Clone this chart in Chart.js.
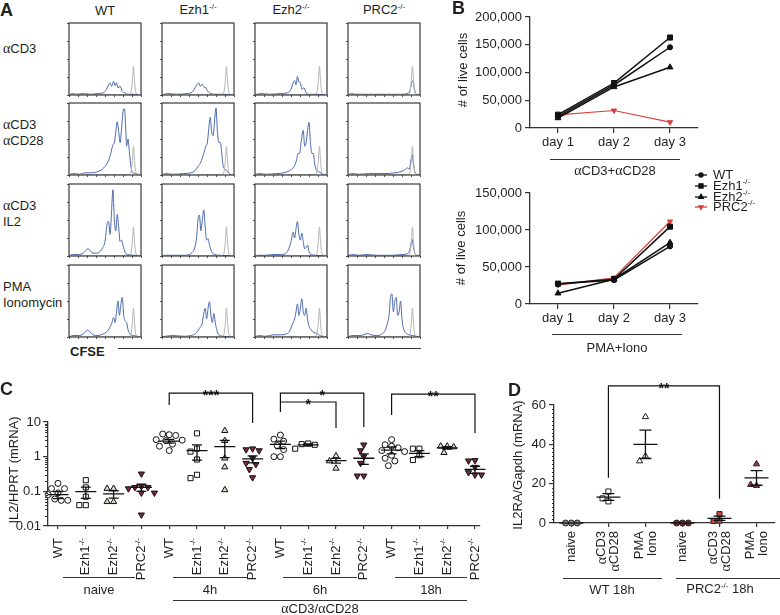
<!DOCTYPE html>
<html>
<head>
<meta charset="utf-8">
<title>PRC2 T cell figure</title>
<script src="https://cdn.jsdelivr.net/npm/chart.js@4.4.1/dist/chart.umd.min.js"></script>
<style>
  body { margin: 0; background: #fff; }
  #fig { position: relative; width: 780px; height: 615px; overflow: hidden;
         font-family: "Liberation Sans", Arial, Helvetica, sans-serif; color: #231f20; }
  #fig canvas { position: absolute; }
  .t { position: absolute; font-size: 13px; line-height: 15px; white-space: nowrap; }
  .c { transform: translate(-50%, -50%); }
  .l { transform: translate(0, -50%); }
  .r { transform: translate(-50%, -50%) rotate(-90deg); }
  .big { font-size: 18px; font-weight: bold; line-height: 20px; }
  .s { font-size: 8px; position: relative; top: -5px; }
  .g { font-family: "Liberation Serif", "Times New Roman", serif; font-size: 14px; }
  .ln { position: absolute; height: 1px; background: #333; }
</style>
</head>
<body>
<div id="fig"></div>
<script>
// ---------------- data ----------------
var genotypes = ['WT', 'Ezh1', 'Ezh2', 'PRC2'];

// A - CFSE histograms, [CFSE channel 0-100, fraction of max]
var stimuli = [['αCD3'], ['αCD3', 'αCD28'], ['αCD3', 'IL2'], ['PMA', 'Ionomycin']];
var cfseGray = [[0,0],[80,0.005],[84,0.01],[86,0.04],[88,0.2],[89.5,0.4],[91,0.2],[92.5,0.05],[95,0.01],[100,0]];
var cfseCD3 = [
  [[0,0],[5,0.02],[10,0.01],[20,0.02],[30,0.01],[40,0.02],[48,0.03],[52,0.08],[55,0.14],[57,0.17],[59,0.12],[62,0.19],[64,0.13],[66,0.17],[68,0.1],[71,0.12],[74,0.05],[78,0.03],[82,0.01],[88,0.01],[100,0]],
  [[0,0],[8,0.02],[20,0.01],[35,0.02],[42,0.04],[46,0.1],[49,0.15],[51,0.17],[53,0.12],[56,0.15],[58,0.11],[61,0.1],[63,0.06],[66,0.03],[72,0.01],[85,0.01],[100,0]],
  [[0,0],[8,0.02],[20,0.01],[35,0.02],[45,0.03],[50,0.08],[53,0.17],[55,0.2],[57,0.14],[59,0.26],[61,0.18],[63,0.17],[65,0.08],[68,0.1],[71,0.03],[76,0.01],[85,0.01],[100,0]],
  [[0,0],[5,0.02],[10,0.01],[30,0.01],[60,0.01],[75,0.01],[82,0.02],[86,0.06],[88,0.15],[90,0.2],[92,0.1],[94,0.02],[100,0]]
];
var cfseCD3CD28 = [
  [[0,0],[5,0.02],[15,0.01],[22,0.03],[30,0.03],[38,0.04],[45,0.07],[50,0.12],[55,0.2],[58,0.3],[61,0.42],[63,0.45],[65,0.6],[67,0.74],[69,0.6],[71,0.45],[73,0.65],[75,0.88],[77,0.92],[79,0.6],[80,0.4],[82,0.5],[84,0.3],[86,0.12],[88,0.04],[92,0.02],[100,0]],
  [[0,0],[5,0.02],[15,0.01],[30,0.02],[40,0.03],[46,0.06],[50,0.12],[54,0.18],[58,0.3],[61,0.4],[63,0.45],[65,0.65],[67,0.8],[69,0.6],[71,0.55],[73,0.75],[75,0.93],[77,0.6],[79,0.45],[81,0.45],[83,0.3],[85,0.12],[88,0.08],[91,0.04],[95,0.01],[100,0]],
  [[0,0],[5,0.02],[15,0.01],[30,0.02],[40,0.03],[48,0.06],[53,0.1],[57,0.18],[60,0.3],[62,0.3],[64,0.45],[67,0.62],[69,0.4],[71,0.45],[73,0.62],[75,0.73],[77,0.45],[79,0.3],[81,0.3],[83,0.15],[86,0.06],[90,0.04],[94,0.01],[100,0]],
  [[0,0],[5,0.02],[15,0.01],[30,0.02],[50,0.02],[65,0.03],[75,0.05],[80,0.08],[83,0.1],[85,0.08],[87,0.18],[89,0.28],[91,0.15],[93,0.04],[96,0.01],[100,0]]
];
var cfseCD3IL2 = [
  [[0,0],[5,0.02],[12,0.02],[18,0.03],[22,0.06],[26,0.1],[29,0.08],[33,0.04],[38,0.04],[43,0.06],[47,0.12],[50,0.2],[53,0.45],[55,0.48],[57,0.3],[59,0.6],[61,0.92],[63,0.5],[65,0.35],[67,0.58],[69,0.4],[71,0.2],[73,0.22],[75,0.15],[78,0.05],[82,0.02],[90,0.01],[100,0]],
  [[0,0],[5,0.01],[15,0.01],[30,0.01],[38,0.02],[42,0.05],[45,0.1],[48,0.25],[50,0.5],[52,0.57],[54,0.35],[56,0.5],[58,0.64],[60,0.4],[62,0.22],[64,0.24],[66,0.15],[69,0.06],[73,0.02],[80,0.01],[100,0]],
  [[0,0],[5,0.01],[15,0.01],[25,0.02],[35,0.02],[42,0.03],[46,0.08],[50,0.2],[53,0.33],[55,0.25],[57,0.38],[59,0.48],[61,0.3],[63,0.22],[65,0.32],[67,0.2],[69,0.1],[71,0.12],[73,0.15],[75,0.06],[78,0.02],[85,0.01],[100,0]],
  [[0,0],[5,0.02],[15,0.01],[25,0.02],[40,0.01],[60,0.01],[75,0.02],[82,0.03],[85,0.06],[87,0.14],[89,0.23],[91,0.12],[93,0.03],[96,0.01],[100,0]]
];
var cfsePMA = [
  [[0,0],[5,0.02],[12,0.02],[18,0.03],[22,0.06],[26,0.1],[29,0.07],[33,0.03],[40,0.02],[47,0.04],[52,0.07],[56,0.12],[59,0.18],[62,0.27],[64,0.2],[66,0.35],[68,0.5],[70,0.3],[72,0.45],[74,0.55],[76,0.3],[78,0.22],[80,0.2],[82,0.1],[85,0.04],[90,0.02],[100,0]],
  [[0,0],[5,0.01],[15,0.02],[30,0.01],[40,0.02],[47,0.05],[52,0.12],[56,0.2],[58,0.33],[60,0.4],[62,0.25],[64,0.4],[66,0.49],[68,0.3],[70,0.2],[72,0.33],[74,0.2],[76,0.1],[79,0.03],[85,0.01],[100,0]],
  [[0,0],[5,0.02],[15,0.01],[25,0.03],[35,0.03],[43,0.04],[48,0.08],[52,0.18],[55,0.25],[57,0.35],[59,0.46],[61,0.3],[63,0.4],[65,0.53],[67,0.35],[69,0.3],[71,0.4],[73,0.25],[75,0.15],[78,0.1],[82,0.06],[86,0.05],[90,0.02],[100,0]],
  [[0,0],[5,0.02],[15,0.02],[22,0.03],[27,0.05],[32,0.03],[40,0.02],[47,0.04],[52,0.1],[55,0.2],[57,0.3],[59,0.55],[61,0.6],[63,0.35],[65,0.5],[67,0.55],[69,0.3],[71,0.35],[73,0.5],[75,0.25],[77,0.12],[80,0.06],[85,0.03],[90,0.02],[100,0]]
];

// B - number of live cells (WT, Ezh1, Ezh2, PRC2)
var days = ['day 1', 'day 2', 'day 3'];
var liveCD28 = [[21000, 77500, 145500], [24000, 81000, 163000], [18000, 74000, 109500], [23500, 31500, 10500]];
var livePMA = [[27000, 32500, 78000], [27500, 33500, 104500], [14500, 33500, 83000], [25500, 35500, 111500]];

// C - IL2/HPRT, per genotype: [naive, 4h, 6h, 18h]
var il2Times = ['naive', '4h', '6h', '18h'];
var il2Ticks = [0.01, 0.1, 1, 10];
var il2WT = [[0.17, 0.12, 0.12, 0.09, 0.08, 0.06, 0.055, 0.055], [4.3, 4.5, 4.1, 3.1, 3.0, 2.9, 2.3, 2.0, 1.5],
             [4.2, 3.2, 2.8, 2.1, 1.6, 1.0, 1.0], [3.1, 2.2, 2.0, 1.8, 1.5, 1.4, 1.1, 0.9, 0.75, 0.55]];
var il2Ezh1 = [[0.21, 0.13, 0.07, 0.04, 0.04], [4.7, 1.7, 1.4, 0.83, 0.3, 0.24], [2.4, 2.3, 2.2, 1.7], [1.7, 1.7, 1.1, 0.8]];
var il2Ezh2 = [[0.12, 0.12, 0.05, 0.05], [5.6, 2.9, 0.9, 0.5, 0.11], [1.05, 0.75, 0.46], [2.0, 2.0, 1.9, 1.3]];
var il2PRC2 = [[0.32, 0.14, 0.13, 0.13, 0.12, 0.09, 0.09, 0.021], [1.7, 1.6, 1.5, 0.9, 0.65, 0.6, 0.43, 0.25],
               [2.2, 1.5, 1.0, 0.65, 0.28, 0.28], [0.78, 0.76, 0.5, 0.35, 0.3, 0.3]];
var il2Mean = [[0.08, 2.8, 2.26, 1.55], [0.098, 1.49, 2.2, 1.25], [0.084, 1.94, 0.77, 1.8], [0.13, 0.86, 0.9, 0.43]];
var il2Sem = [[0.018, 0.35, 0.55, 0.35], [0.035, 0.7, 0.15, 0.25], [0.02, 1.0, 0.12, 0.15], [0.03, 0.2, 0.3, 0.1]];
// [from, to, top, left end, right end, stars]
var il2Stats = [[4, 7, 68, 31, 9.4, '***'], [8, 11, 68, 19.4, 7.2, '*'], [8, 10, 37.7, 37.7, 6.7, '*'], [12, 15, 64, 15.9, 4.8, '**']];

// D - IL2RA/Gapdh, [naive, aCD3 aCD28, PMA Iono]
var il2raStim = [['naive'], ['αCD3', 'αCD28'], ['PMA', 'Iono']];
var il2raGroups = ['WT 18h', 'PRC2-/- 18h'];
var il2raTicks = [0, 20, 40, 60];
var il2raWT = [[0, 0, 0], [16, 11, 12.5], [54, 34, 31.5]];
var il2raPRC2 = [[0, 0, 0], [4.5, 1.2, 1.0], [30, 19, 19.5]];
var il2raMean = [[0, 13.2, 40], [0, 2.4, 22.9]];
var il2raSem = [[0, 1.7, 7.2], [0, 1.1, 3.7]];
var il2raStats = [[1, 4, 69.7, 23, 12.3, '**']];

// ---------------- helpers ----------------
Chart.defaults.font.family = '"Liberation Sans", Arial, Helvetica, sans-serif';
Chart.defaults.font.size = 13;
Chart.defaults.color = '#231f20';
Chart.defaults.animation = false;
Chart.defaults.responsive = false;
Chart.defaults.plugins.legend.display = false;
Chart.defaults.plugins.tooltip.enabled = false;

var fig = document.getElementById('fig');
var INK = '#231f20';

function addCanvas(x, y, w, h) {
  var c = document.createElement('canvas');
  c.width = w; c.height = h;
  c.style.left = x + 'px'; c.style.top = y + 'px';
  c.style.width = w + 'px'; c.style.height = h + 'px';
  fig.appendChild(c);
  return c;
}
function txt(html, x, y, cls) {
  var d = document.createElement('div');
  d.className = 't ' + cls;
  d.innerHTML = html;
  d.style.left = x + 'px'; d.style.top = y + 'px';
  fig.appendChild(d);
}
function hline(x1, x2, y) {
  var d = document.createElement('div');
  d.className = 'ln';
  d.style.left = x1 + 'px'; d.style.top = y + 'px'; d.style.width = (x2 - x1) + 'px';
  fig.appendChild(d);
}
function greek(s) { return s.replace(/α/g, '<span class="g">α</span>').replace(/-\/-/g, '<span class="s">-/-</span>'); }
function toXY(arr) { return arr.map(function (p) { return { x: p[0], y: p[1] }; }); }

// text pieces: [text, kind] kind '' normal, 's' superscript, 'g' greek
function partsOf(s) {
  var out = [];
  s.split(/(α|-\/-)/).forEach(function (p) {
    if (!p) return;
    out.push([p, p === 'α' ? 'g' : (p === '-/-' ? 's' : '')]);
  });
  return out;
}
function fontFor(k) {
  if (k === 's') return '8px "Liberation Sans", Arial, sans-serif';
  if (k === 'g') return '14px "Liberation Serif", "Times New Roman", serif';
  return '13px "Liberation Sans", Arial, sans-serif';
}
function drawParts(ctx, parts, x, y, align) {
  var w = 0;
  parts.forEach(function (p) { ctx.font = fontFor(p[1]); w += ctx.measureText(p[0]).width; });
  var cx = align === 'right' ? x - w : x;
  ctx.fillStyle = INK; ctx.textAlign = 'left'; ctx.textBaseline = 'middle';
  parts.forEach(function (p) {
    ctx.font = fontFor(p[1]);
    ctx.fillText(p[0], cx, p[1] === 's' ? y - 4 : y);
    cx += ctx.measureText(p[0]).width;
  });
}

// simple beeswarm: horizontal offsets (in category units) so markers do not overlap
function swarm(vals, toPx, pxPerCat, d) {
  var placed = [], steps = [0, -0.5, 0.5, -1, 1, -1.5, 1.5, -2, 2, -2.5, 2.5];
  return vals.map(function (v) {
    var py = toPx(v), ox = 0;
    for (var k = 0; k < steps.length; k++) {
      ox = steps[k] * d;
      var ok = placed.every(function (p) { return Math.hypot(p[0] - ox, p[1] - py) >= d; });
      if (ok) break;
    }
    placed.push([ox, py]);
    return ox / pxPerCat;
  });
}

var framePlugin = {
  id: 'frame',
  afterDraw: function (chart) {
    var a = chart.chartArea, ctx = chart.ctx;
    ctx.save(); ctx.strokeStyle = '#3a3a3a'; ctx.lineWidth = 1.2;
    ctx.strokeRect(a.left, a.top, a.right - a.left, a.bottom - a.top);
    ctx.restore();
  }
};

function meanSemPlugin(items, halfW, capW) {
  return {
    id: 'meanSem',
    afterDatasetsDraw: function (chart) {
      var ctx = chart.ctx, xs = chart.scales.x, ys = chart.scales.y;
      ctx.save(); ctx.strokeStyle = '#111'; ctx.lineWidth = 1.3;
      items.forEach(function (m) {
        var px = xs.getPixelForValue(m.x), pm = ys.getPixelForValue(m.mean);
        ctx.beginPath();
        ctx.moveTo(px - halfW, pm); ctx.lineTo(px + halfW, pm);
        if (m.sem > 0) {
          var pt = ys.getPixelForValue(m.mean + m.sem), pb = ys.getPixelForValue(m.mean - m.sem);
          ctx.moveTo(px, pt); ctx.lineTo(px, pb);
          ctx.moveTo(px - capW, pt); ctx.lineTo(px + capW, pt);
          ctx.moveTo(px - capW, pb); ctx.lineTo(px + capW, pb);
        }
        ctx.stroke();
      });
      ctx.restore();
    }
  };
}

function bracketPlugin(list) {
  return {
    id: 'brackets',
    afterDraw: function (chart) {
      var ctx = chart.ctx, xs = chart.scales.x, ys = chart.scales.y;
      ctx.save(); ctx.strokeStyle = '#111'; ctx.lineWidth = 1.2;
      list.forEach(function (b) {
        var x1 = xs.getPixelForValue(b[0]), x2 = xs.getPixelForValue(b[1]);
        var yt = ys.getPixelForValue(b[2]), y1 = ys.getPixelForValue(b[3]), y2 = ys.getPixelForValue(b[4]);
        ctx.beginPath();
        ctx.moveTo(x1, y1); ctx.lineTo(x1, yt); ctx.lineTo(x2, yt); ctx.lineTo(x2, y2);
        ctx.stroke();
        ctx.fillStyle = '#111'; ctx.font = 'bold 14px "Liberation Sans", Arial, sans-serif';
        ctx.textAlign = 'center'; ctx.textBaseline = 'alphabetic';
        ctx.fillText(b[5], (x1 + x2) / 2, yt + 7);
      });
      ctx.restore();
    }
  };
}

function rotLabelPlugin(labelFn, gap, spread) {
  return {
    id: 'rotLabels',
    afterDraw: function (chart) {
      var ctx = chart.ctx, xs = chart.scales.x, y0 = chart.chartArea.bottom + gap;
      xs.ticks.forEach(function (t) {
        var lines = labelFn(t.value), px = xs.getPixelForValue(t.value);
        lines.forEach(function (s, j) {
          var lx = px + (j - (lines.length - 1) / 2) * spread;
          ctx.save(); ctx.translate(lx, y0); ctx.rotate(-Math.PI / 2);
          drawParts(ctx, partsOf(s), 0, 0, 'right');
          ctx.restore();
        });
      });
    }
  };
}

function minorTickPlugin(values, len) {
  return {
    id: 'minorTicks',
    afterDraw: function (chart) {
      var ctx = chart.ctx, ys = chart.scales.y, x0 = chart.chartArea.left;
      ctx.save(); ctx.strokeStyle = '#333'; ctx.lineWidth = 1;
      ctx.beginPath();
      values.forEach(function (v) {
        var py = Math.round(ys.getPixelForValue(v)) + 0.5;
        ctx.moveTo(x0 - len, py); ctx.lineTo(x0, py);
      });
      ctx.stroke();
      ctx.restore();
    }
  };
}

function axisGrid(len) { return { drawOnChartArea: false, drawTicks: true, tickLength: len, color: '#333', lineWidth: 1.2 }; }
var axisBorder = { color: '#333', width: 1.3 };

// ---------------- A: histograms ----------------
var histCols = [69, 162, 255, 348], histRows = [23, 103, 184, 265], histSize = 72;
[cfseCD3, cfseCD3CD28, cfseCD3IL2, cfsePMA].forEach(function (row, r) {
  row.forEach(function (curve, c) {
    var cv = addCanvas(histCols[c] - 3, histRows[r] - 1, histSize + 4, histSize + 4);
    new Chart(cv, {
      type: 'line',
      data: { datasets: [
        { data: toXY(cfseGray), borderColor: '#b4b4b4', borderWidth: 1, pointRadius: 0, cubicInterpolationMode: 'monotone' },
        { data: toXY(curve), borderColor: '#4a69ad', borderWidth: 1, pointRadius: 0, cubicInterpolationMode: 'monotone' }
      ] },
      options: {
        devicePixelRatio: 1,
        layout: { padding: { top: 1, right: 1, left: 0, bottom: 0 } },
        scales: {
          x: { type: 'linear', min: 0, max: 100, ticks: { display: false, stepSize: 12.5 },
               grid: { drawOnChartArea: false, tickLength: 2, color: '#555' }, border: { display: false },
               afterFit: function (s) { s.height = 3; } },
          y: { min: 0, max: 1, ticks: { display: false, stepSize: 0.25 },
               grid: { drawOnChartArea: false, tickLength: 2, color: '#555' }, border: { display: false },
               afterFit: function (s) { s.width = 3; } }
        }
      },
      plugins: [framePlugin]
    });
  });
});

txt('A', 0, 10, 'l big');
genotypes.forEach(function (g, i) {
  txt(g === 'WT' ? g : greek(g + '-/-'), histCols[i] + histSize / 2, 10, 'c');
});
stimuli.forEach(function (lines, r) {
  if (lines.length === 1) txt(greek(lines[0]), 3, histRows[r] + 25, 'l');
  else lines.forEach(function (s, j) { txt(greek(s), 3, histRows[r] + 21 + j * 16, 'l'); });
});
txt('<b>CFSE</b>', 70, 351, 'l');
hline(118, 421, 348);

// ---------------- B: live cells ----------------
var liveStyles = [
  { pointStyle: 'circle', radius: 2.6, color: '#111', rot: 0 },
  { pointStyle: 'rect', radius: 3.6, color: '#111', rot: 0 },
  { pointStyle: 'triangle', radius: 3.4, color: '#111', rot: 0 },
  { pointStyle: 'triangle', radius: 3, color: '#d8433b', rot: 180 }
];
function liveSets(series) {
  return series.map(function (vals, i) {
    var st = liveStyles[i];
    return { label: genotypes[i], data: vals, borderColor: st.color, backgroundColor: st.color,
             borderWidth: i === 3 ? 1.2 : 1.5, pointStyle: st.pointStyle, pointRadius: st.radius,
             pointRotation: st.rot, pointBorderWidth: 1, clip: false };
  });
}
function liveScales(axisH, ymax) {
  return {
    x: { offset: true, grid: Object.assign(axisGrid(5), { offset: false }), border: axisBorder,
         ticks: { padding: 2, color: INK, font: { size: 13 } },
         afterFit: function (s) { s.height = axisH; } },
    y: { min: 0, max: ymax, grid: axisGrid(5), border: axisBorder,
         ticks: { stepSize: 50000, padding: 3, color: INK, font: { size: 13 },
                  callback: function (v) { return v.toLocaleString('en-US'); } },
         afterFit: function (s) { s.width = 90; } }
  };
}
var legendPlugin = {
  id: 'liveLegend',
  afterDraw: function (chart) {
    var ctx = chart.ctx, rows = [10, 21, 32, 42];
    chart.data.datasets.forEach(function (ds, i) {
      var y = rows[i], st = liveStyles[i];
      ctx.save();
      ctx.strokeStyle = st.color; ctx.fillStyle = st.color; ctx.lineWidth = 1.3;
      ctx.beginPath(); ctx.moveTo(255, y); ctx.lineTo(267, y); ctx.stroke();
      Chart.helpers.drawPoint(ctx, { pointStyle: st.pointStyle, rotation: st.rot, radius: st.radius * 0.8, borderWidth: 1 }, 261, y);
      ctx.restore();
      drawParts(ctx, partsOf(i === 0 ? ds.label : ds.label + '-/-'), 273, y, 'left');
    });
  }
};

new Chart(addCanvas(440, 0, 270, 165), {
  type: 'line',
  data: { labels: days, datasets: liveSets(liveCD28) },
  options: { devicePixelRatio: 1, layout: { padding: { top: 17, right: 12, left: 0, bottom: 0 } },
             scales: liveScales(37, 200000) }
});
new Chart(addCanvas(440, 165, 340, 195), {
  type: 'line',
  data: { labels: days, datasets: liveSets(livePMA) },
  options: { devicePixelRatio: 1, layout: { padding: { top: 28, right: 82, left: 0, bottom: 0 } },
             scales: liveScales(56, 150000) },
  plugins: [legendPlugin]
});
txt('B', 452, 8, 'l big');
txt('# of live cells', 462, 70, 'r');
txt('# of live cells', 460, 248, 'r');
hline(550, 680, 159); txt(greek('αCD3+αCD28'), 615, 170, 'c');
hline(552, 682, 334); txt('PMA+Iono', 617, 347, 'c');

// ---------------- C: IL2 mRNA ----------------
var il2Series = [il2WT, il2Ezh1, il2Ezh2, il2PRC2];
var il2Styles = [
  { pointStyle: 'circle', radius: 3, bg: '#fff', rot: 0 },
  { pointStyle: 'rect', radius: 3.6, bg: '#fff', rot: 0 },
  { pointStyle: 'triangle', radius: 3.6, bg: '#ddd5c5', rot: 0 },
  { pointStyle: 'triangle', radius: 3.6, bg: '#7b2a35', rot: 180 }
];
var cMin = -0.36, cMax = 15.18, cPlotW = 432, cPlotH = 104;
var cPxPerCat = cPlotW / (cMax - cMin), cPxPerDec = cPlotH / 3;
var cSets = [], cMeans = [];
il2Times.forEach(function (tm, t) {
  il2Series.forEach(function (ser, g) {
    var idx = t * 4 + g, st = il2Styles[g];
    var offs = swarm(ser[t], function (v) { return -Math.log10(v) * cPxPerDec; }, cPxPerCat, 6.5);
    cSets.push({ data: ser[t].map(function (v, k) { return { x: idx + offs[k], y: v }; }),
                 pointStyle: st.pointStyle, pointRadius: st.radius, pointRotation: st.rot,
                 backgroundColor: st.bg, borderColor: '#111', pointBorderWidth: 1, clip: false });
    cMeans.push({ x: idx, mean: il2Mean[g][t], sem: il2Sem[g][t] });
  });
});
var cMinor = [];
[0.01, 0.1, 1].forEach(function (d) { for (var m = 2; m <= 9; m++) cMinor.push(m * d); });

new Chart(addCanvas(0, 385, 490, 230), {
  type: 'scatter',
  data: { datasets: cSets },
  options: {
    devicePixelRatio: 1,
    layout: { padding: { top: 37, right: 10, left: 0, bottom: 0 } },
    scales: {
      x: { type: 'linear', min: cMin, max: cMax, grid: axisGrid(3), border: axisBorder,
           ticks: { display: false },
           afterBuildTicks: function (s) { s.ticks = []; for (var i = 0; i < 16; i++) s.ticks.push({ value: i }); },
           afterFit: function (s) { s.height = 89; } },
      y: { type: 'logarithmic', min: 0.01, max: 10, grid: axisGrid(5), border: axisBorder,
           ticks: { padding: 2, color: INK, font: { size: 13 }, callback: function (v) { return String(v); } },
           afterBuildTicks: function (s) { s.ticks = il2Ticks.map(function (v) { return { value: v }; }); },
           afterFit: function (s) { s.width = 48; } }
    }
  },
  plugins: [meanSemPlugin(cMeans, 10.5, 5), bracketPlugin(il2Stats), minorTickPlugin(cMinor, 3),
            rotLabelPlugin(function (v) { return [v % 4 === 0 ? 'WT' : genotypes[v % 4] + '-/-']; }, 12, 0)]
});
txt('C', 0, 389, 'l big');
txt('IL2/HPRT (mRNA)', 13, 470, 'r');
var cGroupX = [[63, 135], [173, 247], [283, 357], [395, 467]];
il2Times.forEach(function (tm, t) {
  hline(cGroupX[t][0], cGroupX[t][1], 577);
  txt(tm, (cGroupX[t][0] + cGroupX[t][1]) / 2, 589, 'c');
});
hline(173, 467, 600);
txt(greek('αCD3/αCD28'), 320, 608, 'c');

// ---------------- D: IL2RA mRNA ----------------
var il2raSeries = [il2raWT, il2raPRC2];
var il2raStyles = [
  [{ pointStyle: 'circle', radius: 3, bg: '#8c8c8c' }, { pointStyle: 'rect', radius: 3.6, bg: '#fff' }, { pointStyle: 'triangle', radius: 3.6, bg: '#fff' }],
  [{ pointStyle: 'circle', radius: 3, bg: '#6e2c2c' }, { pointStyle: 'rect', radius: 3.6, bg: '#c9463d' }, { pointStyle: 'triangle', radius: 3.6, bg: '#a3303f' }]
];
var dMin = -0.47, dMax = 5.5, dPlotW = 226, dPlotH = 118;
var dPxPerCat = dPlotW / (dMax - dMin), dPxPerUnit = dPlotH / 60;
var dSets = [], dMeans = [];
il2raSeries.forEach(function (ser, g) {
  il2raStim.forEach(function (stim, s) {
    var idx = g * 3 + s, st = il2raStyles[g][s];
    var offs = swarm(ser[s], function (v) { return -v * dPxPerUnit; }, dPxPerCat, 6);
    dSets.push({ data: ser[s].map(function (v, k) { return { x: idx + offs[k], y: v }; }),
                 pointStyle: st.pointStyle, pointRadius: st.radius, backgroundColor: st.bg,
                 borderColor: '#222', pointBorderWidth: 1, clip: false });
    dMeans.push({ x: idx, mean: il2raMean[g][s], sem: il2raSem[g][s] });
  });
});
var dMinor = [];
for (var v = 2; v < 60; v += 2) if (v % 20) dMinor.push(v);

new Chart(addCanvas(500, 380, 280, 235), {
  type: 'scatter',
  data: { datasets: dSets },
  options: {
    devicePixelRatio: 1,
    layout: { padding: { top: 25, right: 0, left: 0, bottom: 0 } },
    scales: {
      x: { type: 'linear', min: dMin, max: dMax, grid: axisGrid(4), border: axisBorder,
           ticks: { display: false },
           afterBuildTicks: function (s) { s.ticks = []; for (var i = 0; i < 6; i++) s.ticks.push({ value: i }); },
           afterFit: function (s) { s.height = 92; } },
      y: { min: 0, max: 60, grid: axisGrid(5), border: axisBorder,
           ticks: { padding: 3, color: INK, font: { size: 13 } },
           afterBuildTicks: function (s) { s.ticks = il2raTicks.map(function (v) { return { value: v }; }); },
           afterFit: function (s) { s.width = 54; } }
    }
  },
  plugins: [meanSemPlugin(dMeans, 12, 6), bracketPlugin(il2raStats), minorTickPlugin(dMinor, 2),
            rotLabelPlugin(function (v) { return il2raStim[v % 3]; }, 8, 13)]
});
txt('D', 508, 390, 'l big');
txt('IL2RA/Gapdh (mRNA)', 517, 465, 'r');
hline(563, 662, 578); txt(greek(il2raGroups[0]), 612, 589, 'c');
hline(676, 780, 578); txt(greek(il2raGroups[1]), 720, 589, 'c');
</script>
</body>
</html>
